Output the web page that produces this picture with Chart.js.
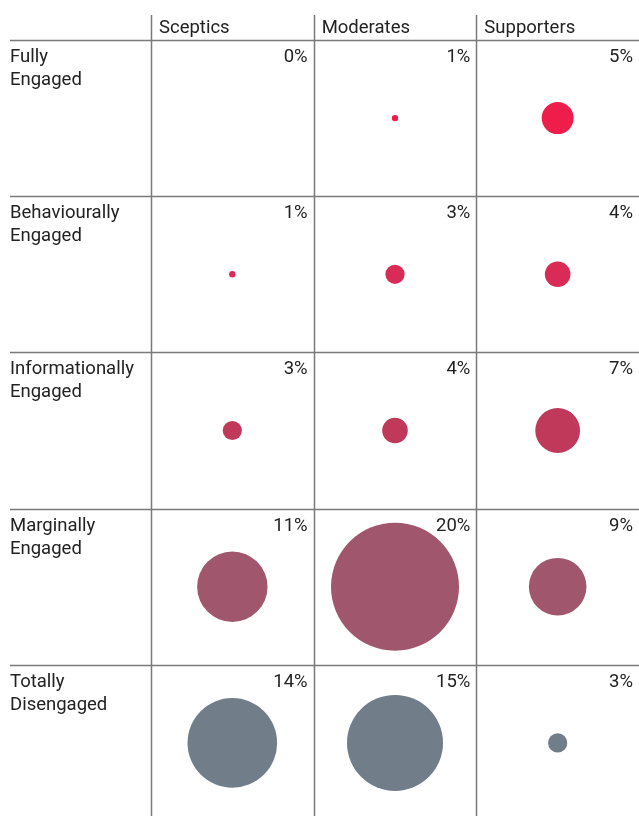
<!DOCTYPE html>
<html>
<head>
<meta charset="utf-8">
<script src="https://cdn.jsdelivr.net/npm/chart.js@4.4.1/dist/chart.umd.min.js"></script>
<style>
  html, body { margin: 0; padding: 0; background: #fff; }
  #wrap { width: 639px; height: 816px; position: relative; }
</style>
</head>
<body>
<div id="wrap"><canvas id="grid"></canvas></div>
<script>
// Segments (columns) and engagement levels (rows)
const segments = ["Sceptics", "Moderates", "Supporters"];
const levels = [
  ["Fully", "Engaged"],
  ["Behaviourally", "Engaged"],
  ["Informationally", "Engaged"],
  ["Marginally", "Engaged"],
  ["Totally", "Disengaged"]
];

// Share of respondents (%), one array per segment, in row order
const sceptics = [0, 1, 3, 11, 14];
const moderates = [1, 3, 4, 20, 15];
const supporters = [5, 4, 7, 9, 3];

const rowColors = ["#ee1d4a", "#d92b55", "#c0395a", "#a0566c", "#717d89"];

const FONT = "Roboto, 'DejaVu Sans', sans-serif";

function buildPoints() {
  const pts = [];
  [sceptics, moderates, supporters].forEach((vals, c) => {
    vals.forEach((v, r) => {
      pts.push({ x: c + 0.5, y: r + 0.5, v, row: r });
    });
  });
  return pts;
}

// draws the table lines and all texts around the bubbles
const tablePlugin = {
  id: "table",
  beforeDatasetsDraw(chart) {
    const { ctx, scales: { x, y }, width } = chart;
    ctx.save();
    ctx.strokeStyle = "#7a7a7a";
    ctx.lineWidth = 1.5;
    // vertical lines
    for (let c = 0; c < segments.length; c++) {
      const px = Math.round(x.getPixelForValue(c)) + 0.5;
      ctx.beginPath();
      ctx.moveTo(px, 15);
      ctx.lineTo(px, chart.height);
      ctx.stroke();
    }
    // horizontal lines
    for (let r = 0; r < levels.length; r++) {
      const py = Math.round(y.getPixelForValue(r)) + 0.5;
      ctx.beginPath();
      ctx.moveTo(10, py);
      ctx.lineTo(width, py);
      ctx.stroke();
    }

    ctx.fillStyle = "#222";
    ctx.font = "18.5px " + FONT;
    ctx.textBaseline = "alphabetic";
    // headers
    ctx.textAlign = "left";
    segments.forEach((s, c) => {
      ctx.fillText(s, x.getPixelForValue(c) + 8, 33);
    });
    // row labels
    levels.forEach((lines, r) => {
      const top = y.getPixelForValue(r);
      lines.forEach((t, i) => ctx.fillText(t, 10, top + 22 + i * 23));
    });
    // percentages
    ctx.textAlign = "right";
    [sceptics, moderates, supporters].forEach((vals, c) => {
      const right = x.getPixelForValue(c + 1) - 6;
      vals.forEach((v, r) => {
        ctx.fillText(v + "%", right, y.getPixelForValue(r) + 22);
      });
    });
    ctx.restore();
  }
};

new Chart(document.getElementById("grid"), {
  type: "bubble",
  data: {
    datasets: [{
      data: buildPoints(),
      backgroundColor: ctx => rowColors[ctx.raw.row],
      borderWidth: 0,
      radius: ctx => ctx.raw.v * 3.2,
      hoverRadius: 0,
      clip: false
    }]
  },
  options: {
    responsive: true,
    maintainAspectRatio: false,
    animation: false,
    layout: { autoPadding: false, padding: { left: 151, top: 40, right: 0, bottom: 0 } },
    scales: {
      x: { type: "linear", min: 0, max: 3, display: false },
      y: { type: "linear", min: 0, max: 776 / 156.2, reverse: true, display: false }
    },
    plugins: {
      legend: { display: false },
      tooltip: { enabled: false }
    }
  },
  plugins: [tablePlugin]
});
</script>
</body>
</html>
